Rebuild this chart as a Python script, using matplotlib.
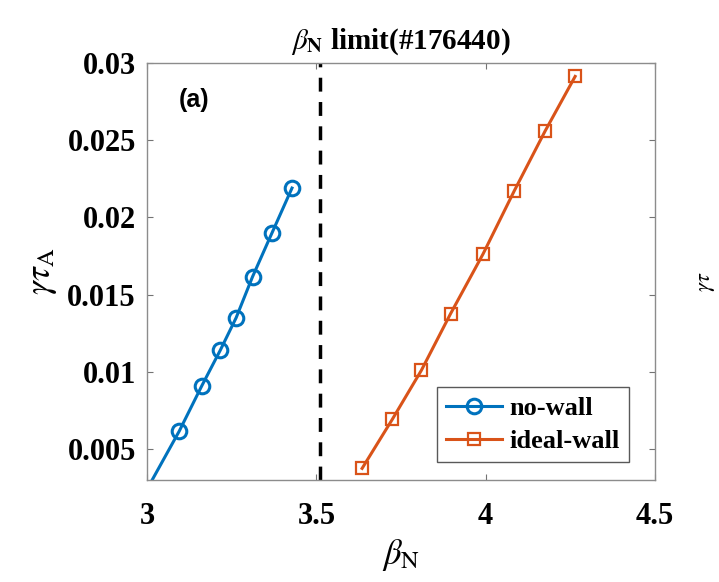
import numpy as np
import matplotlib
matplotlib.use("Agg")
import matplotlib.pyplot as plt

plt.rcParams['font.family'] = ['Liberation Serif', 'DejaVu Serif']
plt.rcParams['mathtext.fontset'] = 'stix'

# growth rate vs beta_N scan
beta_nowall = [3.00, 3.095, 3.162, 3.216, 3.263, 3.3115, 3.369, 3.428]
gamma_nowall = [0.0024, 0.00616, 0.00911, 0.01139, 0.0135, 0.01616, 0.0190, 0.0219]
beta_ideal = [3.635, 3.724, 3.810, 3.896, 3.992, 4.084, 4.175, 4.264]
gamma_ideal = [0.00375, 0.00692, 0.0101, 0.01376, 0.01763, 0.02171, 0.02558, 0.02913]
beta_limit = 3.51

xticks = [3, 3.5, 4, 4.5]
xtick_labels = ['3', '3.5', '4', '4.5']
yticks = [0.005, 0.01, 0.015, 0.02, 0.025, 0.03]
ytick_labels = ['0.005', '0.01', '0.015', '0.02', '0.025', '0.03']

blue = '#0072BD'
orange = '#D95319'

fig = plt.figure(figsize=(7.19, 5.82), dpi=100)
ax = fig.add_axes([0.2045, 0.1753, 0.7066, 0.7165])

ax.plot(beta_nowall, gamma_nowall, '-o', color=blue, lw=2.2, ms=10.5, mew=2.2,
        mfc='none', label='no-wall')
ax.plot(beta_ideal, gamma_ideal, '-s', color=orange, lw=2.2, ms=9, mew=1.6,
        mfc='none', label='ideal-wall')
ax.axvline(beta_limit, color='black', ls=(0, (4, 3)), lw=2.5)

ax.set_xlim(3, 4.5)
ax.set_ylim(0.003, 0.03)
ax.set_xticks(xticks)
ax.set_xticklabels(xtick_labels)
ax.set_yticks(yticks)
ax.set_yticklabels(ytick_labels)
ax.tick_params(direction='in', length=4, width=0.8, color='0.45',
               top=True, right=True, labelsize=22)
ax.tick_params(axis='x', pad=16)
ax.tick_params(axis='y', pad=8)
for lab in ax.get_xticklabels() + ax.get_yticklabels():
    lab.set_fontweight('bold')
for sp in ax.spines.values():
    sp.set_color('0.55')
    sp.set_linewidth(1)

ax.set_xlabel(r'$\beta_\mathrm{N}$', fontsize=25, labelpad=4)
ax.set_ylabel(r'$\gamma\tau_\mathrm{A}$', fontsize=25, labelpad=6)
ax.set_title(r'$\beta_\mathbf{N}$ limit(#176440)', fontsize=21,
             fontweight='bold', pad=10)

ax.text(0.0925, 0.911, '(a)', transform=ax.transAxes, fontsize=18,
        fontweight='bold', family='Liberation Sans', ha='center', va='center')

leg = ax.legend(loc='lower right', bbox_to_anchor=(0.949, 0.043),
                prop={'size': 19, 'weight': 'bold'}, fancybox=False,
                edgecolor='0.35', framealpha=1, handlelength=2.1,
                handletextpad=0.3, borderpad=0.35, labelspacing=0.35,
                borderaxespad=0)
leg.get_frame().set_linewidth(1)

# neighbouring panel's label at the right edge
fig.text(717 / 719, 1 - 282 / 582, r'$\gamma\tau$', fontsize=16,
         rotation=90, ha='right', va='center')

fig.savefig('out.png', dpi=100)
